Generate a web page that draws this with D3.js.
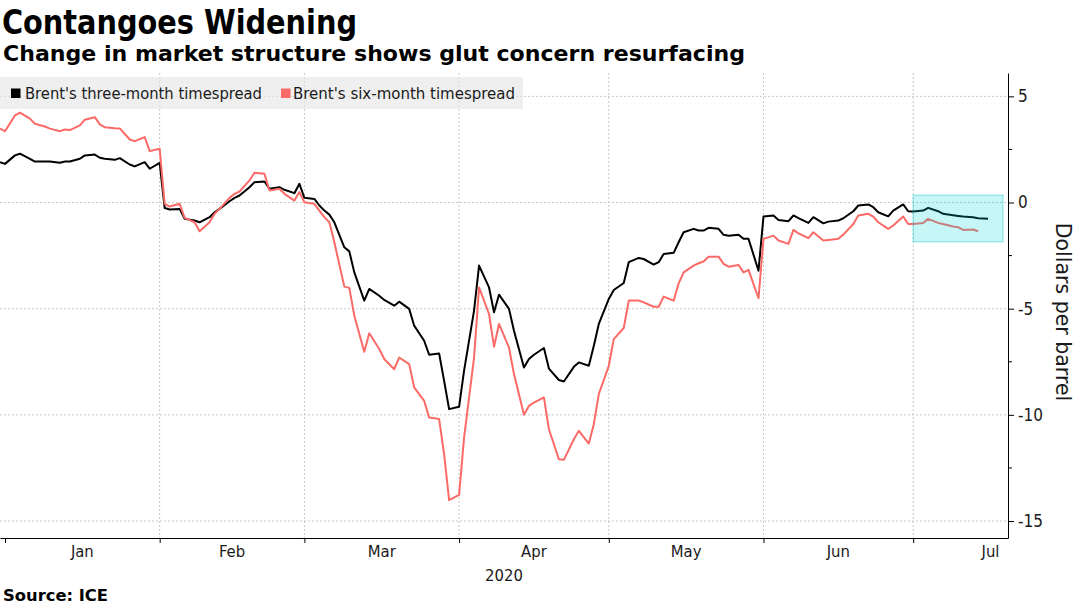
<!DOCTYPE html>
<html><head><meta charset="utf-8">
<script src="https://cdn.jsdelivr.net/npm/d3@7"></script>
<style>body{margin:0;background:#fff;} svg{display:block;}</style>
</head><body>
<svg id="chart" width="1079" height="606"></svg>
<script>
const dates = ["2019-12-31","2020-01-01","2020-01-03","2020-01-04","2020-01-06","2020-01-07","2020-01-09","2020-01-10","2020-01-12","2020-01-13","2020-01-14","2020-01-16","2020-01-17","2020-01-19","2020-01-20","2020-01-21","2020-01-23","2020-01-24","2020-01-26","2020-01-27","2020-01-29","2020-01-30","2020-02-01","2020-02-02","2020-02-03","2020-02-05","2020-02-06","2020-02-08","2020-02-09","2020-02-11","2020-02-12","2020-02-13","2020-02-15","2020-02-16","2020-02-17","2020-02-19","2020-02-20","2020-02-22","2020-02-23","2020-02-25","2020-02-26","2020-02-28","2020-02-29","2020-03-01","2020-03-03","2020-03-04","2020-03-05","2020-03-06","2020-03-07","2020-03-09","2020-03-10","2020-03-11","2020-03-13","2020-03-14","2020-03-16","2020-03-17","2020-03-19","2020-03-20","2020-03-22","2020-03-23","2020-03-25","2020-03-26","2020-03-28","2020-03-29","2020-03-30","2020-04-01","2020-04-02","2020-04-04","2020-04-05","2020-04-07","2020-04-08","2020-04-09","2020-04-11","2020-04-12","2020-04-14","2020-04-15","2020-04-16","2020-04-18","2020-04-19","2020-04-21","2020-04-22","2020-04-24","2020-04-25","2020-04-27","2020-04-28","2020-04-29","2020-05-01","2020-05-02","2020-05-04","2020-05-05","2020-05-07","2020-05-08","2020-05-10","2020-05-11","2020-05-12","2020-05-14","2020-05-15","2020-05-16","2020-05-18","2020-05-19","2020-05-20","2020-05-21","2020-05-23","2020-05-24","2020-05-25","2020-05-27","2020-05-28","2020-05-29","2020-05-31","2020-06-01","2020-06-03","2020-06-04","2020-06-06","2020-06-07","2020-06-08","2020-06-10","2020-06-11","2020-06-13","2020-06-14","2020-06-16","2020-06-17","2020-06-19","2020-06-20","2020-06-22","2020-06-23","2020-06-24","2020-06-26","2020-06-27","2020-06-29","2020-06-30","2020-07-01","2020-07-03","2020-07-04","2020-07-06","2020-07-07","2020-07-09","2020-07-10","2020-07-11","2020-07-13","2020-07-14","2020-07-16"];
const threeMonth = [1.90,1.82,2.22,2.30,2.06,1.93,1.93,1.93,1.87,1.93,1.93,2.06,2.22,2.26,2.11,2.06,2.01,2.09,1.79,1.70,1.90,1.59,1.87,-0.26,-0.33,-0.30,-0.77,-0.85,-0.93,-0.69,-0.46,-0.30,0.06,0.22,0.33,0.72,0.96,0.99,0.65,0.72,0.60,0.44,0.88,0.22,0.17,-0.14,-0.38,-0.57,-0.93,-2.11,-2.30,-3.29,-4.62,-4.07,-4.39,-4.59,-4.86,-4.67,-5.01,-5.80,-6.51,-7.17,-7.11,-8.40,-9.73,-9.62,-7.92,-5.09,-2.97,-4.00,-5.17,-4.34,-5.01,-6.04,-7.77,-7.37,-7.17,-6.85,-7.82,-8.36,-8.43,-7.74,-7.53,-7.69,-6.75,-5.72,-4.54,-4.12,-3.79,-2.81,-2.61,-2.66,-2.92,-2.81,-2.42,-2.37,-1.87,-1.40,-1.24,-1.32,-1.32,-1.19,-1.24,-1.52,-1.56,-1.52,-1.71,-1.71,-3.21,-0.66,-0.61,-0.82,-0.88,-0.61,-0.73,-0.96,-0.69,-0.98,-0.90,-0.85,-0.74,-0.41,-0.14,-0.09,-0.22,-0.46,-0.65,-0.38,-0.09,-0.41,-0.42,-0.38,-0.25,-0.41,-0.53,-0.60,-0.63,-0.66,-0.69,-0.74,-0.77];
const sixMonth = [3.48,3.36,4.10,4.23,3.95,3.71,3.58,3.48,3.36,3.44,3.41,3.63,3.90,4.02,3.68,3.55,3.50,3.49,2.97,2.89,3.08,2.42,2.53,-0.06,-0.19,-0.06,-0.72,-0.93,-1.35,-0.93,-0.53,-0.30,0.22,0.41,0.52,1.04,1.40,1.35,0.57,0.65,0.41,0.09,0.49,0.01,-0.06,-0.38,-0.69,-0.93,-1.87,-3.96,-4.02,-5.33,-7.03,-6.16,-6.90,-7.37,-7.85,-7.30,-7.61,-8.71,-9.34,-10.13,-10.20,-11.85,-14.02,-13.77,-11.07,-7.30,-4.00,-5.25,-6.79,-5.72,-6.83,-8.08,-10.00,-9.58,-9.42,-9.18,-10.68,-12.09,-12.12,-11.15,-10.75,-11.35,-10.44,-9.02,-7.69,-6.43,-5.91,-4.62,-4.62,-4.70,-4.91,-4.91,-4.43,-4.62,-3.81,-3.29,-2.97,-2.86,-2.78,-2.55,-2.55,-2.89,-3.02,-2.94,-3.29,-3.17,-4.51,-1.71,-1.56,-1.79,-1.95,-1.29,-1.45,-1.68,-1.40,-1.79,-1.76,-1.71,-1.51,-1.01,-0.61,-0.53,-0.66,-0.93,-1.24,-1.08,-0.66,-1.01,-1.01,-0.96,-0.77,-0.96,-1.01,-1.13,-1.16,-1.29,-1.27,-1.35,null];
const seriesNames = ["Brent's three-month timespread", "Brent's six-month timespread"];
const seriesColors = ["#000000", "#fb6a67"];
const yTicks = [5, 0, -5, -10, -15];
const yMinorTicks = [2.5, -2.5, -7.5, -12.5];
const monthStarts = ["2020-01-01","2020-02-01","2020-03-01","2020-04-01","2020-05-01","2020-06-01","2020-07-01","2020-08-01"];
const monthLabels = ["Jan","Feb","Mar","Apr","May","Jun","Jul"];
const yearLabel = "2020";
const highlightDates = ["2020-07-01","2020-07-19"];
const highlightValues = [0.35, -1.85];
const xDomain = ["2019-12-31","2020-07-20"];
const yDomain = [-15.8, 6.1];

const parse = d3.timeParse("%Y-%m-%d");
const svg = d3.select("#chart");
const W = 1008, plotTop = 73, plotBottom = 538;
const x = d3.scaleTime().domain(xDomain.map(parse)).range([0, W]);
const y = d3.scaleLinear().domain(yDomain).range([plotBottom, plotTop]);
const condensed = "'DejaVu Sans Condensed','DejaVu Sans',sans-serif";
const txtColor = "#1a1a1a";

// gridlines
const grid = svg.append("g");
grid.selectAll(".hg").data(yTicks).enter().append("line")
  .attr("x1", 0).attr("x2", W).attr("y1", d => y(d)).attr("y2", d => y(d))
  .attr("stroke", "#c8c8c8").attr("stroke-dasharray", "2,2");
grid.selectAll(".vg").data(monthStarts.slice(1, 7)).enter().append("line")
  .attr("x1", d => x(parse(d))).attr("x2", d => x(parse(d))).attr("y1", plotTop).attr("y2", plotBottom)
  .attr("stroke", "#c8c8c8").attr("stroke-dasharray", "2,2");

// legend
const leg = svg.append("g");
leg.append("rect").attr("x", 0).attr("y", 77).attr("width", 523).attr("height", 32).attr("fill", "rgba(228,228,228,0.6)");
const legX = [11, 281], legTX = [25, 293], legW = [237, 222];
seriesNames.forEach((n, i) => {
  leg.append("rect").attr("x", legX[i]).attr("y", 88.5).attr("width", 9.5).attr("height", 9.5).attr("fill", seriesColors[i]);
  leg.append("text").attr("x", legTX[i]).attr("y", 99).text(n)
    .attr("font-family", condensed).attr("font-size", 16).attr("fill", txtColor)
    .attr("textLength", legW[i]).attr("lengthAdjust", "spacingAndGlyphs");
});

// lines
const series = [threeMonth, sixMonth];
const line = d3.line().defined(d => d[1] != null).x(d => x(d[0])).y(d => y(d[1]));
series.forEach((vals, i) => {
  const pts = dates.map((d, j) => [parse(d), vals[j]]);
  svg.append("path").datum(pts).attr("d", line).attr("fill", "none")
    .attr("stroke", seriesColors[i]).attr("stroke-width", 2).attr("stroke-linejoin", "round");
});

// highlight box
svg.append("rect")
  .attr("x", x(parse(highlightDates[0]))).attr("width", x(parse(highlightDates[1])) - x(parse(highlightDates[0])))
  .attr("y", y(highlightValues[0])).attr("height", y(highlightValues[1]) - y(highlightValues[0]))
  .attr("fill", "rgba(0,215,215,0.22)").attr("stroke", "rgba(0,200,200,0.45)").attr("stroke-width", 1);

// right axis
const yAxis = d3.axisRight(y).tickValues(yTicks).tickSize(6).tickSizeOuter(0).tickPadding(4).tickFormat(d => String(d));
const ya = svg.append("g").attr("transform", `translate(${W},0)`).call(yAxis);
ya.select(".domain").attr("stroke", "#000");
ya.selectAll(".tick line").attr("stroke", "#000");
ya.selectAll(".tick text").attr("font-family", condensed).attr("font-size", 17).attr("fill", txtColor);
svg.append("g").selectAll("line").data(yMinorTicks).enter().append("line")
  .attr("x1", W).attr("x2", W + 4).attr("y1", d => y(d)).attr("y2", d => y(d)).attr("stroke", "#000");

// bottom axis
const xAxis = d3.axisBottom(x).tickValues(monthStarts.slice(0, 7).map(parse)).tickSize(5).tickSizeOuter(0).tickFormat("");
const xa = svg.append("g").attr("transform", `translate(0,${plotBottom})`).call(xAxis);
xa.select(".domain").attr("stroke", "#000");
xa.selectAll(".tick line").attr("stroke", "#000");
svg.append("g").selectAll("text").data(monthLabels).enter().append("text")
  .attr("x", (d, i) => (x(parse(monthStarts[i])) + x(parse(monthStarts[i + 1]))) / 2)
  .attr("y", 557).attr("text-anchor", "middle").text(d => d)
  .attr("font-family", condensed).attr("font-size", 16.5).attr("fill", txtColor);
svg.append("text").attr("x", W / 2).attr("y", 581).attr("text-anchor", "middle").text(yearLabel)
  .attr("font-family", condensed).attr("font-size", 16.5).attr("fill", txtColor);

// y axis title
svg.append("text").attr("transform", "translate(1056,312) rotate(90)").attr("text-anchor", "middle")
  .text("Dollars per barrel").attr("font-family", "'DejaVu Sans',sans-serif").attr("font-size", 20.5).attr("fill", txtColor);

// titles
svg.append("text").attr("x", 2).attr("y", 34).text("Contangoes Widening")
  .attr("font-family", condensed).attr("font-weight", "bold").attr("font-size", 33).attr("fill", "#000")
  .attr("textLength", 355).attr("lengthAdjust", "spacingAndGlyphs");
svg.append("text").attr("x", 3).attr("y", 61).text("Change in market structure shows glut concern resurfacing")
  .attr("font-family", condensed).attr("font-weight", "bold").attr("font-size", 20.5).attr("fill", "#000")
  .attr("textLength", 742).attr("lengthAdjust", "spacingAndGlyphs");
svg.append("text").attr("x", 3).attr("y", 601).text("Source: ICE")
  .attr("font-family", condensed).attr("font-weight", "bold").attr("font-size", 15).attr("fill", "#000")
  .attr("textLength", 105).attr("lengthAdjust", "spacingAndGlyphs");
</script>
</body></html>
